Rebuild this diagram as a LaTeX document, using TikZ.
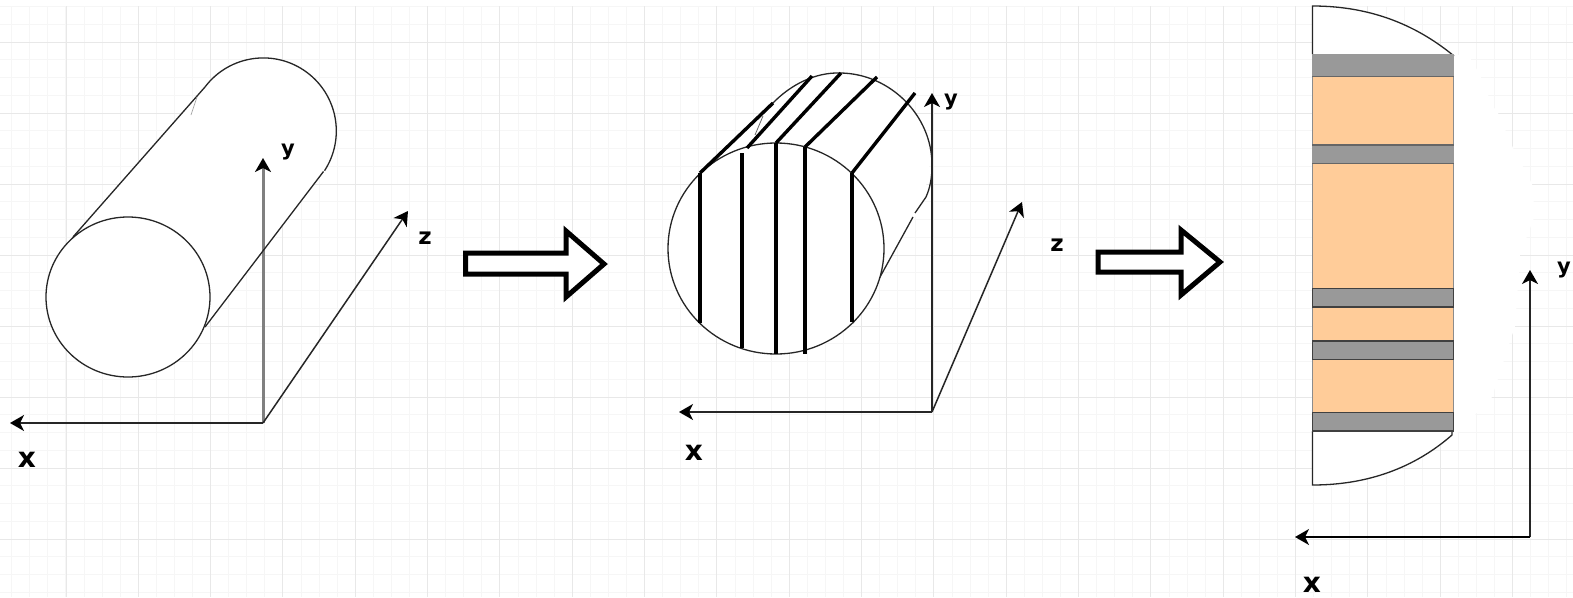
\documentclass[tikz,border=0pt]{standalone}
\usepackage{fontspec}
\setmainfont{DejaVu Sans}
\usetikzlibrary{arrows.meta}
\definecolor{gridmajor}{HTML}{E8E8E8}
\definecolor{gridminor}{HTML}{F6F6F6}
\definecolor{band}{HTML}{999999}
\definecolor{layer}{HTML}{FFCC99}
\tikzset{
  outline/.style={draw=black!85,line width=1.3pt},
  axisline/.style={draw=black!85,line width=1.5pt,-{Stealth[length=14pt,width=16pt,inset=4pt,black]}},
  heavyaxis/.style={axisline,draw=black!50,line width=3pt},
  slice/.style={draw=black,line width=3.4pt},
  blockarrow/.style={draw=black,fill=white,line width=5pt,miter limit=10},
  lab/.style={font=\bfseries\fontsize{#1}{#1}\selectfont,inner sep=0pt,text=black},
  bandbox/.style={fill=band,draw=black!75,line width=1.4pt},
  layerbox/.style={fill=layer,draw=black!45,line width=1.2pt}
}
\begin{document}
\begin{tikzpicture}[x=1pt,y=-1pt]
\useasboundingbox (0,0) rectangle (1573,597);
\fill[white] (0,0) rectangle (1573,597);
% grid
\foreach \k in {0,...,87}{\draw[gridminor,line width=1pt] ({66-54.25+18.0825*\k},6) -- ({66-54.25+18.0825*\k},597);}
\foreach \k in {0,...,33}{\draw[gridminor,line width=1pt] (0,{6.5+17.75*\k}) -- (1573,{6.5+17.75*\k});}
\foreach \k in {0,...,20}{\draw[gridmajor,line width=1pt] ({66+72.33*\k},6) -- ({66+72.33*\k},597);}
\foreach \k in {0,...,7}{\draw[gridmajor,line width=1pt] (0,{42+71*\k}) -- (1573,{42+71*\k});}

% panel 1
\coordinate (oa) at (263,423);
\coordinate (ay) at (263,158);
\coordinate (ax) at (10,423);
\coordinate (az) at (408,211);
\fill[white] (205,87) arc[start angle=217,end angle=393,radius=73] -- (205,327) -- (73,237) -- cycle;
\draw[outline] (73,237) -- (205,87) arc[start angle=217,end angle=393,radius=73];
\draw[black!35,line width=.7pt] (197,97) -- (191,115);
\draw[heavyaxis] (oa) -- (ay);
\draw[outline,fill=white] (128,297) ellipse[x radius=82,y radius=80];
\draw[outline] (323.5,171.5) -- (205,327);
\draw[axisline] (oa) -- (ax);
\draw[axisline] (oa) -- (az);
\node[lab=21] (ly1) at (288,152) {y};
\node[lab=23] (lz1) at (425,238) {z};
\node[lab=28] (lx1) at (27,460) {x};

% arrow 1
\draw[blockarrow] (465.5,253) -- (566,253) -- (566,231) -- (604,264) -- (566,297) -- (566,274) -- (465.5,274) -- cycle;

% panel 2
\coordinate (ob) at (932,412);
\coordinate (by) at (932,93);
\coordinate (bx) at (679,412);
\coordinate (bz) at (1022,202);
\fill[white] (838,163) circle[radius=91];
\fill[white] (700,173) -- (780,95) -- (927,197) -- (853,323) -- cycle;
\draw[outline] (772,104) .. controls (790,85) and (815,72) .. (841,73)
   .. controls (890,74) and (932,115) .. (932,165) .. controls (932,178) and (930,188) .. (926,197) -- (915,213);
\draw[outline] (913,217) -- (880,277) -- (853,323);
\draw[axisline] (ob) -- (by);
\draw[outline,fill=white] (776,248.5) ellipse[x radius=108,y radius=105.5];
\draw[black!60,line width=.8pt] (763,116) -- (755,135);
\foreach \nm/\xa/\ya/\xb/\yb in {a/700/173/773/103,b/747/148/812/76,c/776/143/841/73,d/805/147/877/77,e/852/173/915/93}{
  \draw[slice] (\xa,\ya) -- (\xb,\yb);
}
\foreach \xv/\ya/\yb in {700/173/323,742/153/348,776/143/354,805/147/354,852/173/322}{
  \draw[slice] (\xv,\ya) -- (\xv,\yb);
}
\draw[axisline] (ob) -- (bx);
\draw[axisline] (ob) -- (bz);
\node[lab=21] (ly2) at (951,102) {y};
\node[lab=23] (lz2) at (1057,245) {z};
\node[lab=28] (lx2) at (694,453) {x};

% arrow 2
\draw[blockarrow] (1098,252) -- (1181,252) -- (1181,230) -- (1220,262) -- (1181,295) -- (1181,272) -- (1098,272) -- cycle;

% panel 3
\fill[white] (1454,54) -- (1470,58) -- (1480,75) -- (1492,105) -- (1498,113) -- (1513,148) -- (1532,184) -- (1535,215) -- (1520,255) -- (1515,326) -- (1492,397) -- (1470,420) -- (1454,436) -- cycle;
\fill[white] (1312.5,54) -- (1312.5,6) .. controls (1375,6) and (1420,28) .. (1454,56) -- cycle;
\draw[outline] (1312.5,54) -- (1312.5,6) .. controls (1375,6) and (1420,28) .. (1454,56);
\fill[white] (1312.5,431) -- (1312.5,485) .. controls (1375,485) and (1420,463) .. (1452,435) -- (1452,431) -- cycle;
\draw[outline] (1312.5,431) -- (1312.5,485) .. controls (1375,485) and (1420,463) .. (1452,435) -- (1452,431);
\fill[band] (1312,54) rectangle (1454,76.5);
\draw[layerbox] (1312.5,76.5) rectangle (1453.5,145);
\draw[layerbox] (1312.5,163.5) rectangle (1453.5,288.5);
\draw[layerbox] (1312.5,307) rectangle (1453.5,341);
\draw[layerbox] (1312.5,359.5) rectangle (1453.5,412.5);
\fill[band] (1312,145) rectangle (1454,163.5);
\draw[black!60,line width=1.2pt] (1312,76.5) -- (1454,76.5) (1312,163.5) -- (1454,163.5) (1312,145) -- (1454,145);
\draw[bandbox] (1312.5,288.5) rectangle (1453.5,307);
\draw[bandbox] (1312.5,341) rectangle (1453.5,359.5);
\draw[bandbox] (1312.5,412.5) rectangle (1453.5,431);
\coordinate (oc) at (1530,537);
\coordinate (cy) at (1530,270);
\coordinate (cx) at (1295,537);
\draw[axisline] (oc) -- (cy);
\draw[axisline,draw=black] (oc) -- (cx);
\node[lab=21] (ly3) at (1564,270) {y};
\node[lab=28] (lx3) at (1312,585) {x};
\end{tikzpicture}
\end{document}
